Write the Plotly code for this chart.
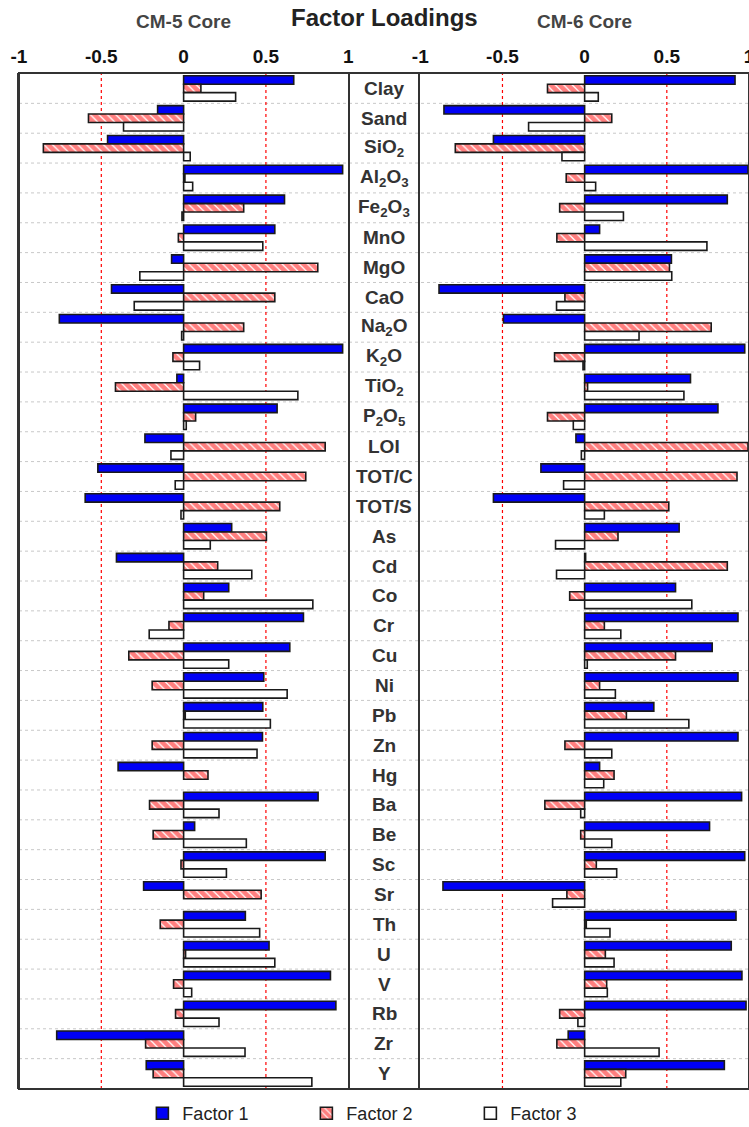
import plotly.graph_objects as go

# Variables (top to bottom)
variables = ["Clay", "Sand", "SiO2", "Al2O3", "Fe2O3", "MnO", "MgO", "CaO", "Na2O", "K2O",
             "TiO2", "P2O5", "LOI", "TOT/C", "TOT/S", "As", "Cd", "Co", "Cr", "Cu",
             "Ni", "Pb", "Zn", "Hg", "Ba", "Be", "Sc", "Sr", "Th", "U",
             "V", "Rb", "Zr", "Y"]
variable_labels = ["Clay", "Sand", "SiO<sub>2</sub>", "Al<sub>2</sub>O<sub>3</sub>",
                   "Fe<sub>2</sub>O<sub>3</sub>", "MnO", "MgO", "CaO", "Na<sub>2</sub>O",
                   "K<sub>2</sub>O", "TiO<sub>2</sub>", "P<sub>2</sub>O<sub>5</sub>", "LOI",
                   "TOT/C", "TOT/S", "As", "Cd", "Co", "Cr", "Cu", "Ni", "Pb", "Zn", "Hg",
                   "Ba", "Be", "Sc", "Sr", "Th", "U", "V", "Rb", "Zr", "Y"]

# CM-5 core loadings
cm5_factor1 = [0.669, -0.158, -0.462, 0.966, 0.613, 0.554, -0.073, -0.438, -0.755, 0.966,
               -0.041, 0.568, -0.235, -0.521, -0.598, 0.292, -0.408, 0.274, 0.728, 0.645,
               0.487, 0.481, 0.479, -0.398, 0.817, 0.067, 0.860, -0.243, 0.375, 0.519,
               0.892, 0.925, -0.771, -0.227]
cm5_factor2 = [0.105, -0.578, -0.852, 0.008, 0.365, -0.032, 0.815, 0.554, 0.365, -0.065,
               -0.414, 0.073, 0.860, 0.742, 0.584, 0.503, 0.207, 0.122, -0.089, -0.333,
               -0.191, 0.010, -0.191, 0.148, -0.207, -0.185, -0.016, 0.471, -0.142, 0.012,
               -0.061, -0.049, -0.231, -0.185]
cm5_factor3 = [0.316, -0.365, 0.040, 0.055, -0.010, 0.481, -0.266, -0.300, -0.012, 0.097,
               0.694, 0.016, -0.077, -0.051, -0.016, 0.162, 0.414, 0.785, -0.209, 0.274,
               0.629, 0.527, 0.446, None, 0.215, 0.381, 0.260, None, 0.462, 0.554,
               0.049, 0.215, 0.373, 0.779]

# CM-6 core loadings
cm6_factor1 = [0.915, -0.856, -0.555, 0.994, 0.868, 0.091, 0.528, -0.886, -0.494, 0.974,
               0.644, 0.811, -0.053, -0.266, -0.555, 0.575, 0.006, 0.553, 0.933, 0.776,
               0.933, 0.421, 0.933, 0.091, 0.955, 0.760, 0.974, -0.862, 0.921, 0.892,
               0.957, 0.982, -0.100, 0.850]
cm6_factor2 = [-0.226, 0.165, -0.787, -0.112, -0.152, -0.169, 0.516, -0.120, 0.770, -0.183,
               0.018, -0.226, 0.994, 0.927, 0.512, 0.203, 0.868, -0.091, 0.120, 0.553,
               0.091, 0.254, -0.120, 0.179, -0.242, -0.024, 0.071, -0.108, 0.010, 0.126,
               0.134, -0.152, -0.169, 0.250]
cm6_factor3 = [0.083, -0.341, -0.138, 0.067, 0.236, 0.744, 0.530, -0.171, 0.331, -0.010,
               0.604, -0.069, -0.020, -0.128, 0.120, -0.177, -0.171, 0.652, 0.220, 0.016,
               0.187, 0.634, 0.165, 0.116, -0.024, 0.165, 0.195, -0.195, 0.154, 0.179,
               0.138, -0.041, 0.453, 0.220]

factor_names = ["Factor 1", "Factor 2", "Factor 3"]
tick_vals = [-1, -0.5, 0, 0.5, 1]
tick_text = ["<b>-1</b>", "<b>-0.5</b>", "<b>0</b>", "<b>0.5</b>", "<b>1</b>"]

FONT = "Arial, Liberation Sans, sans-serif"
outline = dict(color="#1a1a1a", width=1.6)
styles = [
    dict(color="#0000f5", line=outline),
    dict(color="white", line=outline,
         pattern=dict(shape="\\", fgcolor="#ff0000", bgcolor="white", size=6, solidity=0.8)),
    dict(color="white", line=outline),
]

fig = go.Figure()

panels = [
    ("x", "y", [cm5_factor1, cm5_factor2, cm5_factor3], True),
    ("x2", "y2", [cm6_factor1, cm6_factor2, cm6_factor3], False),
]
for xa, ya, series, show in panels:
    for name, vals, st in zip(factor_names, series, styles):
        fig.add_trace(go.Bar(
            x=vals, y=variables, orientation="h", name=name,
            marker=st, xaxis=xa, yaxis=ya, showlegend=show,
            legendgroup=name,
        ))

left_dom = [0.0, 0.451]
right_dom = [0.5497, 1.0]

xaxis_common = dict(
    range=[-1, 1], side="top", tickvals=tick_vals, ticktext=tick_text,
    tickfont=dict(family=FONT, size=19, color="#111111"),
    ticks="", ticklabelstandoff=5, ticklabeloverflow="allow",
    showgrid=False, zeroline=False, showline=False, fixedrange=True,
)
yaxis_common = dict(
    categoryorder="array", categoryarray=variables, autorange="reversed",
    showticklabels=False, ticks="", showgrid=False, zeroline=False,
    showline=True, mirror=True, linecolor="#333333", linewidth=2,
)

fig.update_layout(
    width=749, height=1127,
    margin=dict(l=19, r=0, t=73, b=38, autoexpand=False),
    paper_bgcolor="white", plot_bgcolor="white",
    barmode="group", bargap=0.15, bargroupgap=0.0,
    font=dict(family=FONT, color="#222222"),
    xaxis=dict(domain=left_dom, anchor="y", **xaxis_common),
    xaxis2=dict(domain=right_dom, anchor="y2", **xaxis_common),
    yaxis=dict(anchor="x", **yaxis_common),
    yaxis2=dict(anchor="x2", matches="y", **yaxis_common),
    legend=dict(
        orientation="h", x=0.169, xanchor="left",
        yref="container", y=0.012, yanchor="middle",
        entrywidth=119, entrywidthmode="pixels",
        font=dict(family=FONT, size=18, color="#222222"), traceorder="normal",
        bgcolor="rgba(0,0,0,0)",
    ),
    showlegend=True,
)

# Dotted separators between variables, running across both panels and the label column
for i in range(len(variables) + 1):
    fig.add_shape(type="line", xref="paper", yref="y", x0=0, x1=1,
                  y0=i - 0.5, y1=i - 0.5,
                  line=dict(color="#c8c8c8", width=1, dash="dot"), layer="below")

# Red dotted reference lines at +/-0.5 in each panel
for xr in ("x", "x2"):
    for v in (-0.5, 0.5):
        fig.add_shape(type="line", xref=xr, yref="paper", x0=v, x1=v, y0=0, y1=1,
                      line=dict(color="#ff0000", width=1.2, dash="dot"), layer="below")

# Outer frame
fig.add_shape(type="rect", xref="paper", yref="paper", x0=0, x1=1, y0=0, y1=1,
              line=dict(color="#333333", width=2), fillcolor="rgba(0,0,0,0)")

# Variable names in the centre column
for var, lab in zip(variables, variable_labels):
    fig.add_annotation(x=0.5, xref="paper", y=var, yref="y", text=f"<b>{lab}</b>",
                       showarrow=False, xanchor="center", yanchor="middle",
                       font=dict(family=FONT, size=19, color="#333333"))

# Headings
fig.add_annotation(x=0.5, xref="paper", y=1, yref="paper", yshift=56,
                   text="<b>Factor Loadings</b>", showarrow=False,
                   xanchor="center", yanchor="middle",
                   font=dict(family=FONT, size=24, color="#222222"))
fig.add_annotation(x=0, xref="x", y=1, yref="paper", yshift=52,
                   text="<b>CM-5 Core</b>", showarrow=False,
                   xanchor="center", yanchor="middle",
                   font=dict(family=FONT, size=19, color="#444444"))
fig.add_annotation(x=0, xref="x2", y=1, yref="paper", yshift=52,
                   text="<b>CM-6 Core</b>", showarrow=False,
                   xanchor="center", yanchor="middle",
                   font=dict(family=FONT, size=19, color="#444444"))

fig.write_html("out.html")
